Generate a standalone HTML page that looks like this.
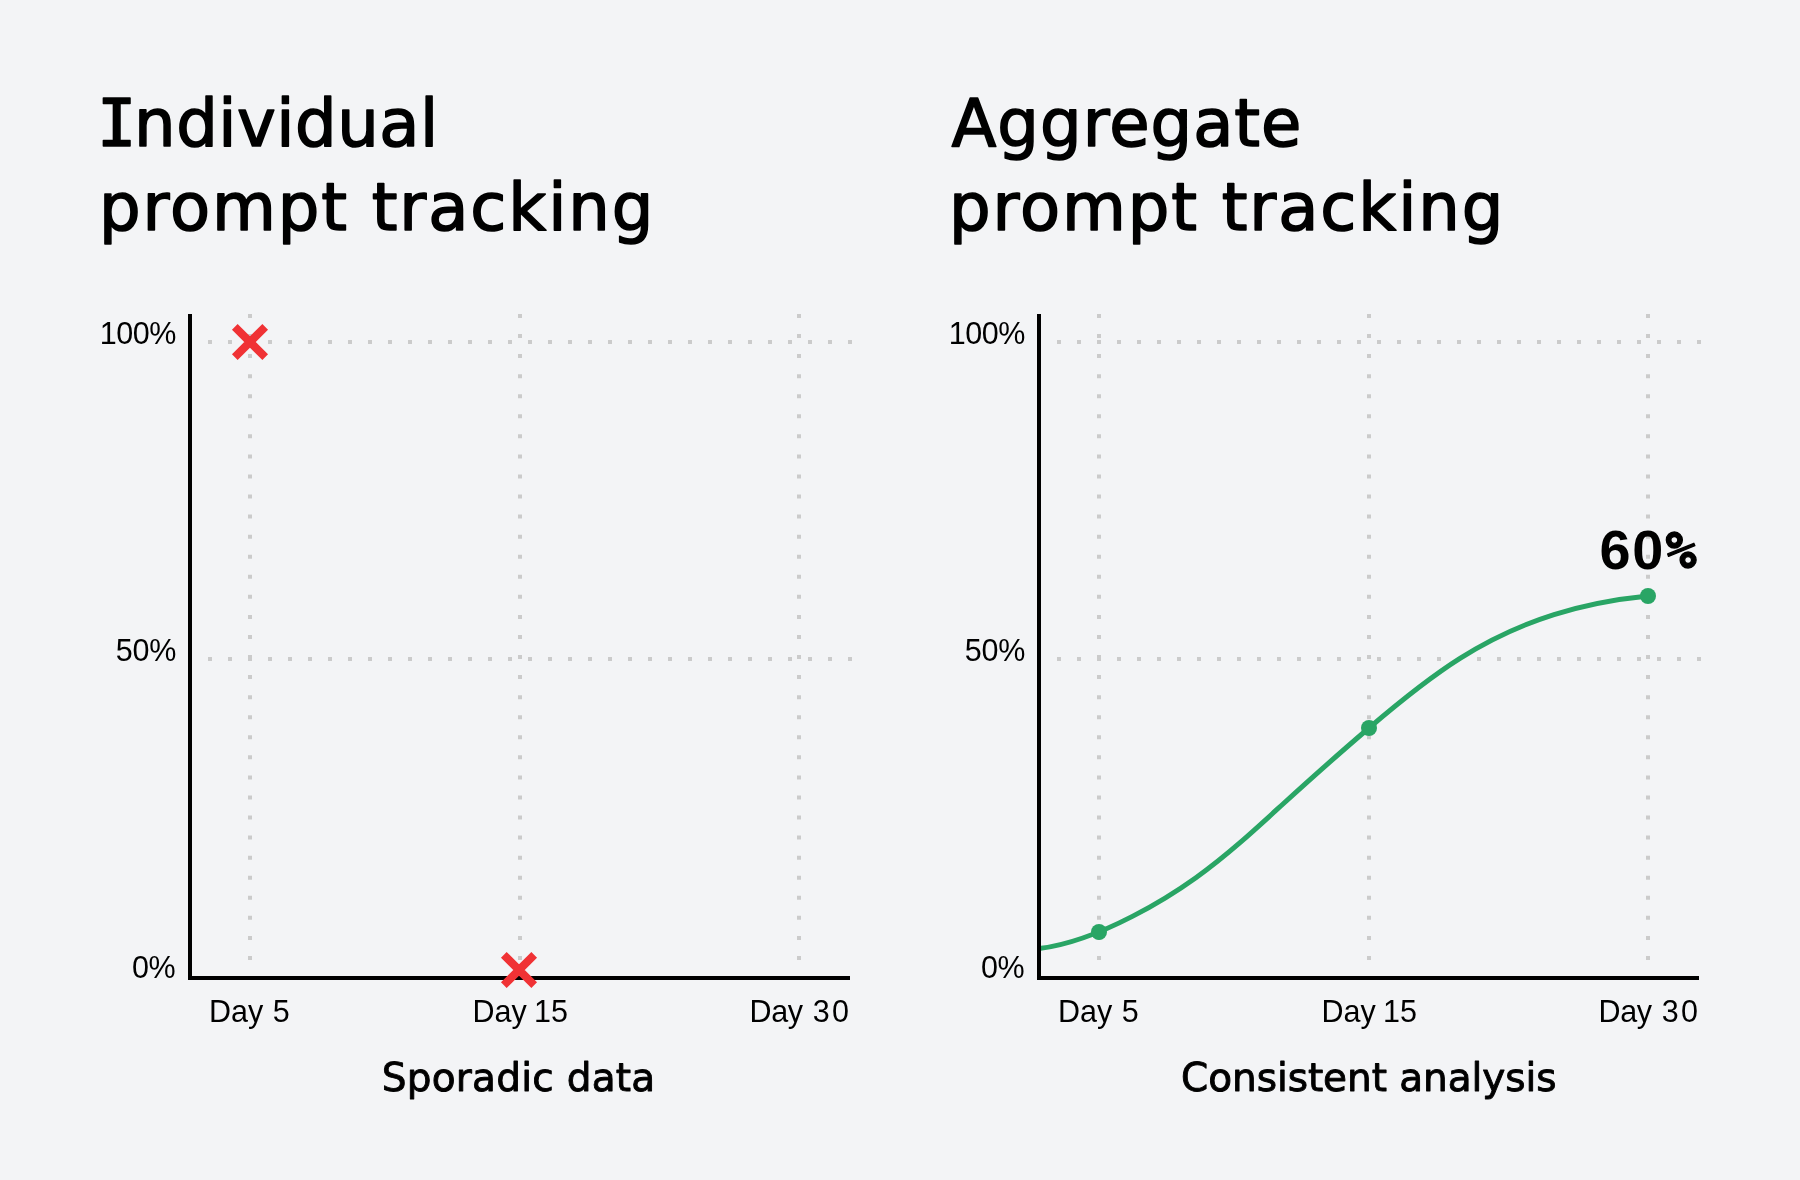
<!DOCTYPE html>
<html lang="en">
<head>
<meta charset="utf-8">
<title>Individual vs aggregate prompt tracking</title>
<style>
  html, body { margin: 0; padding: 0; }
  body { width: 1800px; height: 1180px; background: #f3f4f6; overflow: hidden; }
  svg { display: block; position: absolute; left: 0; top: 0; will-change: transform; }
  .head { font-family: "DejaVu Sans", "Liberation Sans", sans-serif; font-size: 65.6px; fill: #000; stroke: #000; stroke-width: 1.6px; paint-order: stroke fill; stroke-linejoin: round; }
  .cap  { font-family: "DejaVu Sans", "Liberation Sans", sans-serif; font-size: 39px; fill: #000; stroke: #000; stroke-width: 0.9px; stroke-linejoin: round; }
  .ax   { font-family: "Liberation Sans", sans-serif; font-size: 30.5px; fill: #000; }
  .big  { font-family: "Liberation Sans", sans-serif; font-weight: bold; font-size: 55.8px; fill: #000; }
  .pc   { font-family: "DejaVu Sans Mono", "Liberation Mono", monospace; font-weight: bold; font-size: 51.5px; fill: #000; stroke: #000; stroke-width: 1.3px; stroke-linejoin: round; }
  .grid { stroke: #cbcbcb; stroke-width: 4; fill: none; }
  .axis { stroke: #000; stroke-width: 4; fill: none; stroke-linejoin: miter; }
  .xm   { stroke: #f03235; stroke-width: 8; fill: none; stroke-linecap: butt; }
  .curve{ stroke: #29a565; stroke-width: 5; fill: none; stroke-linecap: butt; stroke-linejoin: round; }
  .pt   { fill: #29a565; }
</style>
</head>
<body>
<svg width="1800" height="1180" viewBox="0 0 1800 1180">

  <!-- ===== Headings ===== -->
  <text class="head" x="97" y="145.6" id="h1a" letter-spacing="0.5"><tspan font-family="'DejaVu Sans Mono', 'Liberation Mono', monospace" letter-spacing="-2.4">I</tspan>ndividual</text>
  <text class="head" x="99" y="229.5" id="h1b" letter-spacing="1.9">prompt tracking</text>
  <text class="head" x="951.5" y="145.6" id="h2a" letter-spacing="1.0">Aggregate</text>
  <text class="head" x="949" y="229.5" id="h2b" letter-spacing="1.9">prompt tracking</text>

  <!-- ===== Left chart ===== -->
  <g id="left">
    <!-- dotted grid -->
    <path class="grid" stroke-dasharray="4 16" d="M208 342H852M208 659H852"/>
    <path class="grid" stroke-dasharray="4 16.0606" d="M250 314V976M520 314V976M799 314V976"/>
    <!-- red crosses -->
    <path class="xm" d="M234.8 326.8L265.2 357.2M265.2 326.8L234.8 357.2"/>
    <!-- axes -->
    <path class="axis" d="M190 314V978H850"/>
    <path class="xm" d="M503.8 954.8L534.2 985.2M534.2 954.8L503.8 985.2"/>
    <!-- axis labels -->
    <text class="ax" x="175.8" y="344" text-anchor="end" id="l100" letter-spacing="-0.5">100%</text>
    <text class="ax" x="176" y="661" text-anchor="end" id="l50" letter-spacing="-0.3">50%</text>
    <text class="ax" x="175.2" y="978" text-anchor="end" id="l0" letter-spacing="-0.5">0%</text>
    <text class="ax" x="249.4" y="1022" text-anchor="middle" id="ld5" word-spacing="1">Day 5</text>
    <text class="ax" x="520.2" y="1022" text-anchor="middle" id="ld15" word-spacing="-1.2">Day 15</text>
    <text class="ax" x="800.4" y="1022" text-anchor="middle" id="ld30" word-spacing="1.5"><tspan letter-spacing="-0.3">Day</tspan> <tspan letter-spacing="2.3">30</tspan></text>
    <text class="cap" x="518.6" y="1091.2" text-anchor="middle" id="c1" letter-spacing="0.25">Sporadic data</text>
  </g>

  <!-- ===== Right chart ===== -->
  <g id="right">
    <path class="grid" stroke-dasharray="4 16" d="M1057 342H1701M1057 659H1701"/>
    <path class="grid" stroke-dasharray="4 16.0606" d="M1099 314V976M1369 314V976M1648 314V976"/>
    <!-- growth curve -->
    <path class="curve" d="M1039.0 948.6 C1070.1 944.9 1101.3 932.4 1132.4 916.4 C1153.6 905.5 1174.7 892.9 1195.9 877.7 C1210.6 867.1 1225.3 855.3 1240.0 842.6 C1254.3 830.2 1268.7 817.0 1283.0 804.0 C1311.7 777.9 1340.3 752.4 1369.0 728.0 C1399.3 702.1 1429.7 677.5 1460.0 658.4 C1522.7 618.7 1585.3 602.2 1648.0 596.0"/>
    <circle class="pt" cx="1099" cy="932" r="8"/>
    <circle class="pt" cx="1369" cy="728" r="8"/>
    <circle class="pt" cx="1648" cy="596" r="8"/>
    <path class="axis" d="M1039 314V978H1699"/>
    <text class="ax" x="1024.8" y="344" text-anchor="end" id="r100" letter-spacing="-0.5">100%</text>
    <text class="ax" x="1025" y="661" text-anchor="end" id="r50" letter-spacing="-0.3">50%</text>
    <text class="ax" x="1024.2" y="978" text-anchor="end" id="r0" letter-spacing="-0.5">0%</text>
    <text class="ax" x="1098.4" y="1022" text-anchor="middle" id="rd5" word-spacing="1">Day 5</text>
    <text class="ax" x="1369.2" y="1022" text-anchor="middle" id="rd15" word-spacing="-1.2">Day 15</text>
    <text class="ax" x="1649.4" y="1022" text-anchor="middle" id="rd30" word-spacing="1.5"><tspan letter-spacing="-0.3">Day</tspan> <tspan letter-spacing="2.3">30</tspan></text>
    <text class="big" x="1599.4" y="568.6" id="big" letter-spacing="1.9">60<tspan class="pc" dx="0.2" dy="-0.4" letter-spacing="0">%</tspan></text>
    <text class="cap" x="1368.8" y="1090.9" text-anchor="middle" id="c2" letter-spacing="-0.08">Consistent analysis</text>
  </g>
</svg>
</body>
</html>
